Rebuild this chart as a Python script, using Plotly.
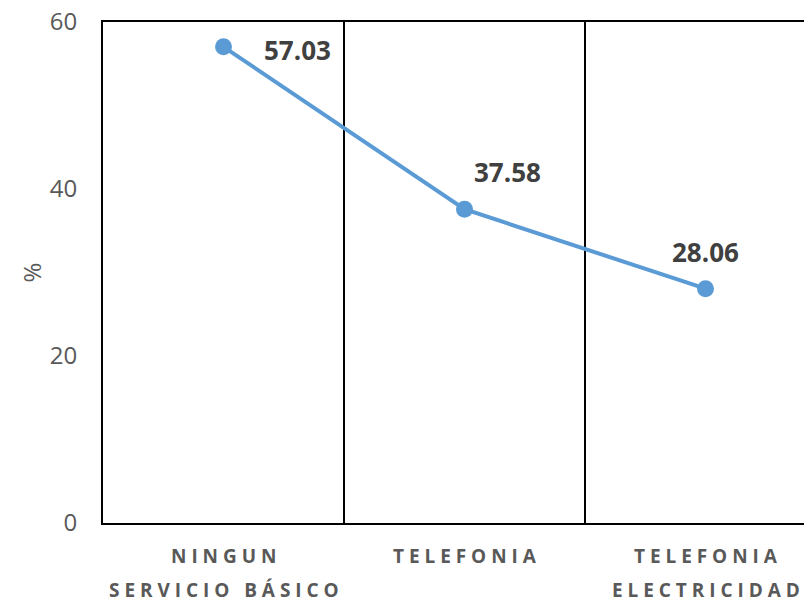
import plotly.graph_objects as go

categories = ["NINGUN SERVICIO BÁSICO", "TELEFONIA", "TELEFONIA ELECTRICIDAD"]
label_line1 = ["NINGUN", "TELEFONIA", "TELEFONIA"]
label_line2 = ["SERVICIO BÁSICO", "", "ELECTRICIDAD"]
values = [57.03, 37.58, 28.06]
y_ticks = [0, 20, 40, 60]
y_title = "%"

LINE_COLOR = "#5B9BD5"
GRAY = "#595959"
DARK = "#404040"
FONT = "Open Sans"


def spaced(s):
    return "   ".join(" ".join(list(w)) for w in s.split(" ")) if s else ""


fig = go.Figure()
fig.add_trace(go.Scatter(
    x=categories, y=values, mode="lines+markers",
    line=dict(color=LINE_COLOR, width=4),
    marker=dict(color=LINE_COLOR, size=17),
    hoverinfo="skip", showlegend=False,
))

# data labels
label_shifts = [(38, -3, "left"), (43, 37, "center"), (0, 37, "center")]
for c, v, (xs, ys, xa) in zip(categories, values, label_shifts):
    fig.add_annotation(x=c, y=v, xref="x", yref="y", text=f"<b>{v:.2f}</b>",
                       showarrow=False, xanchor=xa, yanchor="middle",
                       xshift=xs, yshift=ys,
                       font=dict(family=FONT, size=26, color=DARK))

# category labels (two lines, wide line pitch)
for c, l1, l2 in zip(categories, label_line1, label_line2):
    fig.add_annotation(x=c, y=0, xref="x", yref="paper", text=f"<b>{spaced(l1)}</b>",
                       showarrow=False, xanchor="center", yanchor="middle", yshift=-33,
                       font=dict(family=FONT, size=19, color=GRAY))
    if l2:
        fig.add_annotation(x=c, y=0, xref="x", yref="paper", text=f"<b>{spaced(l2)}</b>",
                           showarrow=False, xanchor="center", yanchor="middle", yshift=-67,
                           font=dict(family=FONT, size=19, color=GRAY))

# y-axis title
fig.add_annotation(x=0, y=0.5, xref="paper", yref="paper", text=y_title,
                   showarrow=False, textangle=-90, xanchor="center", yanchor="middle",
                   xshift=-72, font=dict(family=FONT, size=24, color=GRAY))

fig.update_layout(
    width=812, height=601,
    margin=dict(l=95, r=0, t=14, b=86, autoexpand=False),
    paper_bgcolor="white", plot_bgcolor="white",
    font=dict(family=FONT),
    xaxis=dict(
        type="category", range=[-0.5, 2.475],
        showticklabels=False, ticks="",
        tickson="boundaries", showgrid=True, gridcolor="black", gridwidth=1.5,
        showline=True, linecolor="black", linewidth=2, mirror=True,
        zeroline=False, automargin=False,
    ),
    yaxis=dict(
        range=[0, 60], tickvals=y_ticks,
        showgrid=False, zeroline=False,
        showline=True, linecolor="black", linewidth=2,
        ticks="", ticklabelstandoff=19, automargin=False,
        ticklabeloverflow="allow",
        tickfont=dict(family=FONT, size=24, color=GRAY),
    ),
)

fig.write_html("out.html")
